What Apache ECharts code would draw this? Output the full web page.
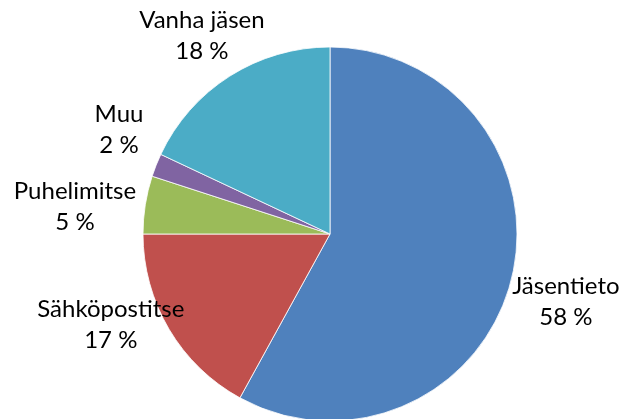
<!DOCTYPE html>
<html>
<head>
<meta charset="utf-8">
<script src="https://cdn.jsdelivr.net/npm/echarts@6/dist/echarts.min.js"></script>
<style>
  html, body { margin: 0; padding: 0; background: #fff; }
  #chart { width: 625px; height: 419px; }
</style>
</head>
<body>
<div id="chart"></div>
<script>
// data (percent of answers)
const categories = ['Jäsentieto', 'Sähköpostitse', 'Puhelimitse', 'Muu', 'Vanha jäsen']
const values = [58, 17, 5, 2, 18]
const colors = ['#4F81BD', '#C0504D', '#9BBB59', '#8064A2', '#4BACC6']

const CENTER = [330, 234]
const RADIUS = 187
const GAP = 8
// small hand tweaks so labels sit where the original spreadsheet put them
const labelNudge = [[-5, 12], [12, -24], [-2, 8], [-7, -21], [10, -7]]

const total = values.reduce((a, b) => a + b, 0)
// mid angle of each slice, clockwise from 12 o'clock
const midAngles = []
let acc = 0
values.forEach(v => {
  midAngles.push((acc + v / 2) / total * Math.PI * 2)
  acc += v
})

const chart = echarts.init(document.getElementById('chart'))
chart.setOption({
  backgroundColor: '#fff',
  animation: false,
  color: colors,
  series: [{
    type: 'pie',
    center: CENTER,
    radius: RADIUS,
    startAngle: 90,
    clockwise: true,
    data: categories.map((name, i) => ({ name, value: values[i] })),
    itemStyle: {
      borderColor: '#fff',
      borderWidth: 0.8
    },
    label: {
      show: true,
      position: 'outside',
      alignTo: 'none',
      overflow: 'none',
      fontFamily: 'Lato',
      fontSize: 24,
      lineHeight: 31,
      color: '#000',
      formatter: p => p.name + '\n' + Math.round(p.percent) + ' %'
    },
    labelLine: { show: false },
    emphasis: { disabled: true },
    labelLayout: params => {
      const i = params.dataIndex
      const a = midAngles[i]
      const dx = Math.sin(a)
      const dy = -Math.cos(a)
      const w = params.labelRect.width
      const h = params.labelRect.height
      return {
        x: CENTER[0] + dx * (RADIUS + GAP) + dx * w / 2 + labelNudge[i][0],
        y: CENTER[1] + dy * (RADIUS + GAP) + dy * h / 2 + labelNudge[i][1],
        align: 'center',
        verticalAlign: 'middle',
        hideOverlap: false,
        moveOverlap: false
      }
    }
  }]
})
</script>
</body>
</html>
